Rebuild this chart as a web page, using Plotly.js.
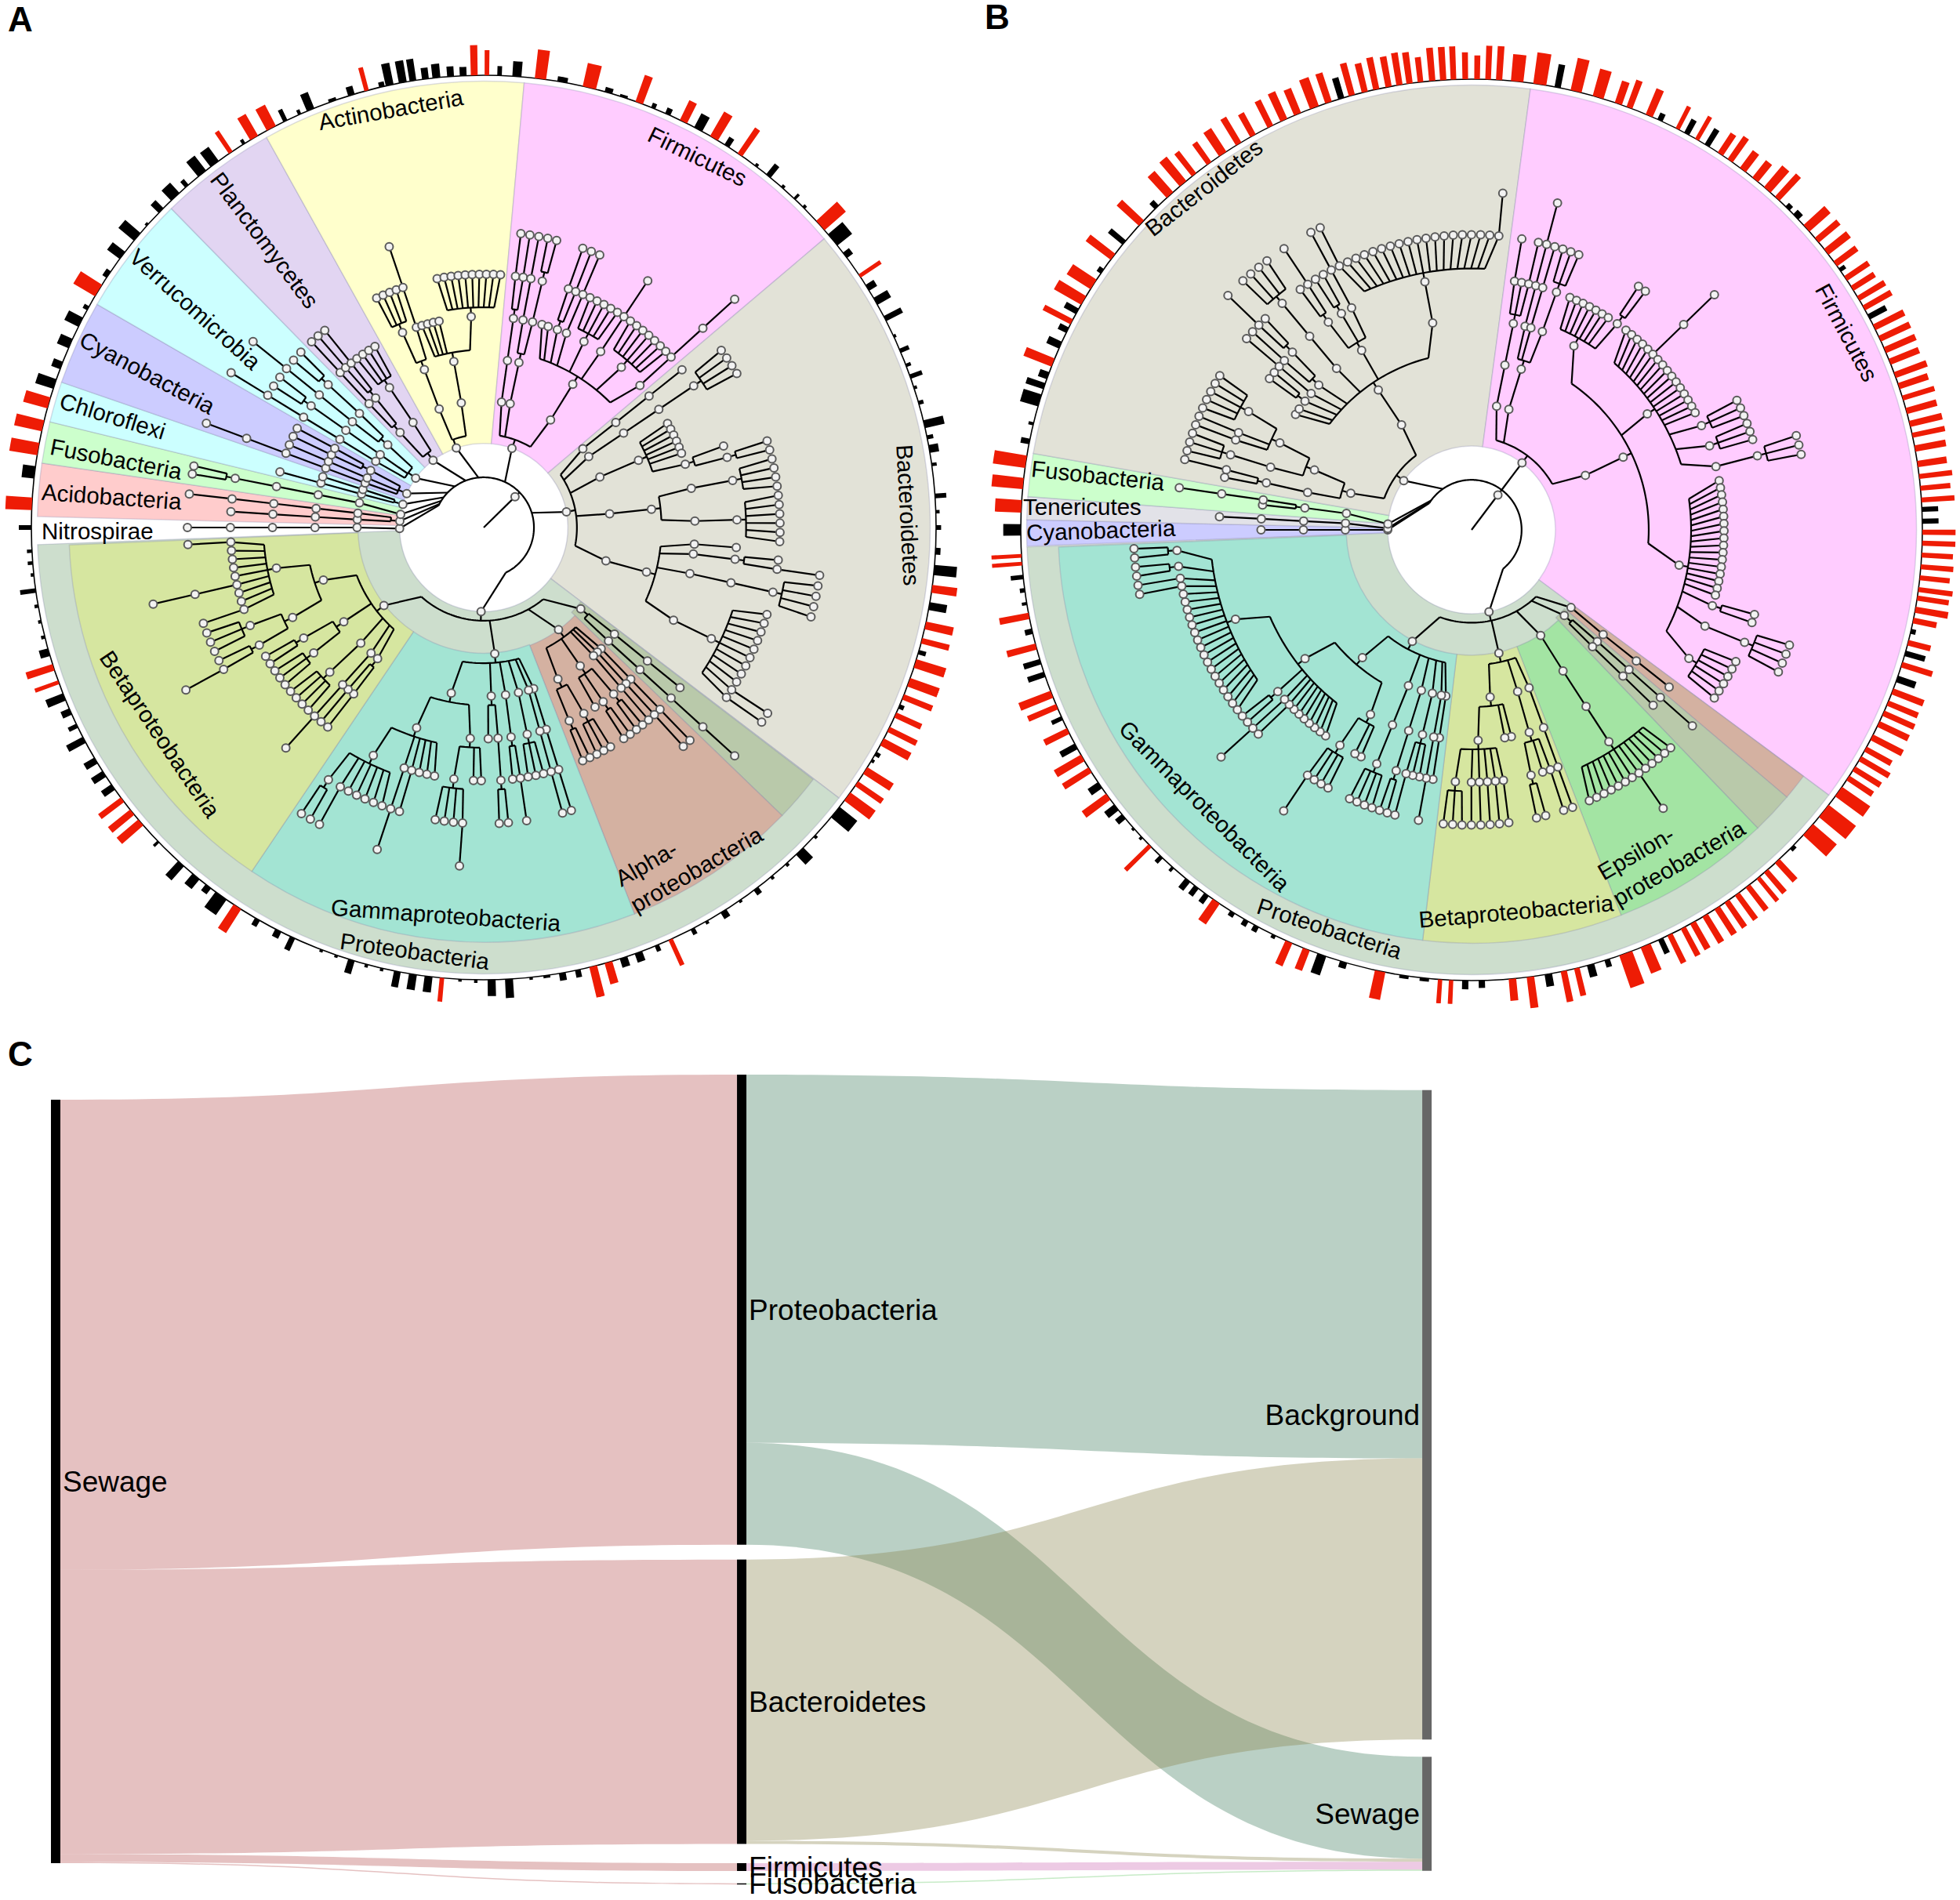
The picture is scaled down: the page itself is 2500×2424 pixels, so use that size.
<!DOCTYPE html>
<html><head><meta charset="utf-8">
<script src="https://cdn.plot.ly/plotly-3.0.1.min.js"></script>
<style>html,body{margin:0;padding:0;background:#fff}#g{width:2500px;height:2424px}</style>
</head><body><div id="g"></div>
<script>
// ---------- panel A: outer bars (angle in degrees clockwise from top, length, width, red flag)
const aBarTheta=[0.4,2,4.2,7.2,10,13.5,16,18,20.1,22,24,26.2,28.3,30.6,32.5,34.5,37,39,41.3,43.4,45,48.1,50.5,53,56.2,58,60,62.5,65,67,69,70.5,72,74,76.8,78.5,80,82,86,88,90,93,95.4,97.8,100,102.5,104.5,106,107.5,110,112,113.3,114.5,116.5,118.3,120,121,122.5,124.5,126.5,129,133,135.7,138,140.5,143,145.5,148,150.5,152.5,155.6,157.5,160,162,164,166,168,170,172,174,176.8,179,181,183,185.3,187,189,191,193,195,197,199,201,205,207,210,213,215.5,217.5,219.5,222,226,229.3,231,233,235,237,239,242,244,246,248,250,252,254,256,258,260,262,264,265.5,267,270,273,277,280,283,286,288.5,291,294,297,299,301.6,304,307,310,312,314.5,317,319,321.5,323.5,326,328,329.5,332,334,336,337.5,340.5,343,345,347,348,349.7,351,352.6,354,355.8,357.4,358.8];
const aBarLen=[40,15,24,46,8,38,8,4,45,8,10,35,25,45,15,50,5,22,5,10,5,45,30,12,40,15,25,30,4,15,8,20,5,8,32,10,15,8,18,6,8,8,36,40,28,45,45,12,50,50,50,8,45,55,50,8,5,50,50,50,36,5,22,5,5,10,4,12,5,10,45,10,15,15,35,50,12,12,4,4,30,26,5,4,38,25,25,25,5,5,22,4,4,22,12,12,45,30,12,20,30,10,45,45,45,20,22,20,30,15,15,30,40,45,15,6,5,6,25,5,8,8,20,42,20,45,45,40,30,15,20,25,8,40,8,25,32,4,18,22,12,30,28,40,8,40,38,20,8,28,5,14,38,8,35,35,35,18,22,16,14,48];
const aBarWid=[8,8,16,20,18,24,14,14,14,8,10,14,16,16,10,10,6,10,6,5,6,22,26,12,7,12,14,10,6,8,6,8,6,7,14,7,14,6,8,6,8,12,18,14,14,14,10,8,16,16,10,8,10,10,14,8,6,14,10,18,24,6,18,6,6,10,6,12,6,8,8,8,14,14,14,14,10,12,12,6,14,14,6,6,8,14,14,12,6,6,12,6,6,10,12,10,16,24,12,16,14,5,14,12,10,12,12,12,12,8,12,14,7,12,14,6,6,6,8,6,6,6,8,22,22,22,20,20,18,14,18,18,8,24,14,16,18,6,12,20,8,18,18,8,6,16,18,8,6,14,14,12,8,10,14,14,12,12,14,12,12,12];
const aBarRed=[1,0,0,1,0,1,0,0,1,0,0,1,0,1,0,1,0,0,0,0,0,1,0,0,1,0,0,0,0,0,0,0,0,0,0,0,0,0,0,0,0,0,0,1,0,1,1,0,1,1,1,0,1,1,1,0,0,1,1,1,0,0,0,0,0,0,0,0,0,0,1,0,0,0,1,1,0,0,0,0,0,0,0,0,1,0,0,0,0,0,0,0,0,0,0,0,1,0,0,0,0,0,1,1,1,0,0,0,0,0,0,0,1,1,0,0,0,0,0,0,0,0,0,1,0,1,1,1,0,0,0,0,0,1,0,0,0,0,0,0,0,0,0,1,0,1,1,0,0,0,0,0,1,0,0,0,0,0,0,0,0,1];
// ---------- panel B: outer bars, as [angle, length, width] grouped by colour
const bRed=[[0.7,38,9],[2.1,54,9],[3.5,54,10],[5.8,43,20],[8.7,50,21],[13.4,53,18],[16.3,45,18],[19,37,12],[20.5,46,10],[23.2,45,12],[27.2,40,7],[30,42,7],[33.5,38,10],[35,45,10],[37,35,12],[39,35,12],[41,45,14],[42.7,50,10],[48,45,14],[50,45,10],[51.9,45,12],[53.8,42,10],[56.1,44,9],[57.6,42,9],[59.1,49,9],[60.5,50,9],[63.3,53,10],[64.9,53,10],[66.5,53,10],[68.1,50,10],[69.9,54,10],[71.4,49,10],[73,53,8],[74.7,50,10],[76.4,53,10],[77.9,53,8],[79.6,50,10],[81.6,47,10],[83.2,53,8],[84.7,48,8],[86.2,53,8],[90.3,53,8],[91.7,53,8],[93.2,50,8],[94.7,52,8],[96.1,48,8],[97.6,55,8],[98.7,51,8],[100.2,53,10],[101.6,38,9],[104.5,37,9],[107.4,51,9],[111,53,10],[112.6,52,9],[114,54,9],[115.5,53,10],[117.4,55,10],[119.1,47,9],[120.5,54,9],[122,50,9],[123.4,47,9],[125.5,55,19],[128.6,55,25],[131.7,50,24],[137.3,42,10],[139.2,45,9],[140.5,48,7],[142.2,48,9],[143.9,50,9],[145.5,50,9],[147,50,10],[148.8,50,10],[150.6,48,10],[152,50,9],[153.9,50,9],[157.3,45,17],[160,55,22],[166.5,45,9],[168.2,50,10],[172.5,50,12],[174.8,35,12],[182.6,38,7],[184,38,7],[191.7,45,17],[201.5,35,12],[203.9,40,12],[214.5,40,14],[225.5,55,7],[233.7,48,12],[237.8,50,10],[239.6,50,12],[243.5,42,10],[246.9,50,9],[248.6,55,12],[255,48,10],[259,48,10],[265.7,48,6],[266.7,48,6],[273,42,20],[275.9,50,18],[278.7,52,20],[291.8,48,14],[297.5,50,9],[300.6,50,16],[303,45,18],[307.3,50,12],[312.9,48,12],[318,45,14],[320.2,50,14],[322,45,9],[324.4,40,9],[326.5,45,14],[328.9,48,10],[331,40,10],[333.5,46,10],[335.4,48,12],[337.3,43,12],[339.6,49,15],[341.5,49,11],[344.6,53,10],[346.3,47,10],[347.8,52,10],[349.4,49,10],[350.8,52,10],[352.1,50,10],[353.5,40,9],[355,53,10],[356.4,53,10],[357.7,53,9],[359.2,43,9]];
const bBlack=[[11,37,10],[24.7,12,9],[28.5,25,9],[31.5,30,9],[44.5,8,9],[46,10,12],[54.8,10,7],[61.8,31,9],[87.4,26,8],[88.9,26,8],[103,8,8],[105.9,33,9],[109.3,31,11],[134.7,6,9],[155.2,25,9],[162.5,12,9],[164.7,20,12],[170.2,20,12],[178.7,12,10],[180.8,14,10],[186,5,15],[188.6,5,15],[196.5,10,12],[199.4,32,15],[206,6,7],[208.5,10,9],[210,10,9],[212,8,9],[216,16,9],[217.6,16,9],[219,18,10],[221.5,8,5],[223.5,12,7],[227,5,5],[228.5,4,5],[230.5,14,10],[232,20,12],[235.5,20,12],[241.3,28,10],[245.3,18,7],[251.3,28,9],[253,28,9],[257,12,9],[260.6,8,5],[262.3,8,7],[264,20,7],[270,28,18],[281.3,14,9],[283.6,8,5],[286.7,30,20],[288.6,30,10],[290,15,12],[294.2,22,12],[296.3,15,10],[299,22,10],[305,8,9],[309.6,30,9],[315.7,12,9],[343.2,34,10]];
const bBarTheta=bRed.concat(bBlack).map(b=>b[0]);
const bBarLen=bRed.concat(bBlack).map(b=>b[1]);
const bBarWid=bRed.concat(bBlack).map(b=>b[2]);
const bBarRed=bRed.map(()=>1).concat(bBlack.map(()=>0));

// ---------- phylum wedges
const aSecFrom=[271.4,278.3,283.7,289,300,315.6,330.9,5.2,49.7,127.3,127.4,134,158.7,214];
const aSecTo=[278.3,283.7,289,300,315.6,330.9,365.2,49.7,127.3,267.8,134,158.7,214,267.6];
const aSecIn=[.186,.186,.186,.186,.186,.186,.186,.186,.186,.186,.27,.28,.278,.278];
const aSecOut=[.987,.987,.987,.987,.987,.987,.987,.987,.987,.987,.917,.917,.917,.917];
const aSecFill=['#ffcccc','#ccffcc','#ccffff','#ccccff','#ccffff','#e2d5f2','#ffffcc','#ffccff','#e2e2d7','#cddecd','#b9c9aa','#d4b1a1','#a3e4d3','#d6e6a0'];
const bSecFrom=[267.9,271.3,274.3,279.9,7.6,126.6,126.6,130.3,136.2,158.8,186.8];
const bSecTo=[271.3,274.3,279.9,367.6,126.6,267.8,130.3,136.2,158.8,186.8,267.6];
const bSecIn=[.186,.186,.186,.186,.186,.186,.278,.27,.278,.278,.278];
const bSecOut=[.987,.987,.987,.987,.987,.987,.917,.917,.917,.917,.917];
const bSecFill=['#ccccff','#e2e2e8','#ccffcc','#e2e2d7','#ffccff','#cddecd','#d4b1a1','#b9c9aa','#a3e4a3','#d6e6a0','#a3e4d3'];

// ---------- taxonomy topology: "(" opens a node, "." a leaf, "N" a chain of N nodes, "N(" a chain whose last node branches
const aPhyla=["6","(4 5)","5(..)","(3 2)","(5 3 (2 2))","(5 3(..) (4 2(..)))","( (3 (2 2)) 2(....) )",
 "( 2( (....) 3 ) 2( .... (..........) ) )",
 "( 3(2 2) 2(3 2(..)) 2( .. (2 2) 3 (.....) 3 (.......) 4 ) )",
 "( 4 4(....) 2(...... (. (..))) 2(2(....) 2(......)) 2(2 2(. 2) 3(....) 2(......... 2 2)) )"];
const aPhylaFrom=[270,273.6,280.4,285.3,290.6,301.5,317.2,335,7.2,51.5];
const aPhylaTo=[270,276.5,282,287.5,298,313.8,329,363.8,47.7,125];
const aPhylaNode=[269.3,274.4,279,286,293.8,306,323,341,19.6,79.3];
const aPhylaAttach=[-64,-62,-58,-53,-46,-35,-21,-6,25,73];
const aClasses=["(3 5)","( 4 4 3 ((..) (..) .) ((...) (..)) )",
 "( 4 4 ((...)) ((2 .)) (2(..) .) ( (.. (2 ...)) (.. . 2 3 (..... 2 (..))) ) )",
 "( (2 2) 4 ((....)) ((...) (..)) ( ((2 .) (...)) (2 . . 3 . . . . 2) ) )"];
const aClassFrom=[129.2,135.9,162.8,218];
const aClassTo=[132.3,157,212.5,266.7];
const aClassNode=[130,143.8,175,232];
const aProteoNode=181.8, aProteoAttach=154, aStem=45.5;

const bPhyla=["4","5","3(. 3)",
 "( ( 2(. 2) ( 2(...) (2 2 (.....)) ) ) 2( . . (..) 3 (2 (2 .)) 2((....)) ((. 2) (..) 3) 2(2 ................. 2) ) )",
 "( 3(2 . 2) 2(4 3 2(...)) 2( (...... . (..)) ( ..... 3 .......... (...) (...) 2(...) ) ( ................. (..) 2(....) (......) ) ) )"];
const bPhylaFrom=[270,273,276.8,282,9.8];
const bPhylaTo=[270,273,278.2,365.3,124.7];
const bPhylaNode=[270,271,274,306,37];
const bPhylaAttach=[-58,-56,-54,-35,37];
const bClasses=["4","(4 3)","4(..... 2 .......)",
 "( 4 ((2 . (..))) ( .. (2 2 2 2 2 (...)) ) )",
 "( 3 4 ((. . 2)) 3(..) 3(....) ( (.. (... 2)) ( ....... 2 3 (..) ( ................. 2 2 (..) (..) ) ) ) )"];
const bClassFrom=[128.5,131.6,137.6,160,188.8];
const bClassTo=[128.5,134,156.5,185.5,266.8];
const bClassNode=[128,132.7,146.8,167.5,208];
const bProteoNode=168, bProteoAttach=141, bStem=37;

// ---------- rotated clade labels
const aLabels=["Actinobacteria","Firmicutes","Bacteroidetes","Planctomycetes","Verrucomicrobia","Cyanobacteria","Chloroflexi","Fusobacteria","Acidobacteria","Nitrospirae","Betaproteobacteria","Gammaproteobacteria","Proteobacteria","Alpha-<br>proteobacteria"];
const aLabelX=[499,890,1159,338,249,188,143,148,142,124,204,569,529,878];
const aLabelY=[140,199,657,306,395,475,531,585,633,677,937,1167,1213,1092];
const aLabelRot=[-10,26,87,53,42,28,17,11,4,0,56,4,8,-30];
const bLabels=["Bacteroidetes","Firmicutes","Fusobacteria","Tenericutes","Cyanobacteria","Gammaproteobacteria","Proteobacteria","Betaproteobacteria","Epsilon-<br>proteobacteria"];
const bLabelX=[1535,2356,1400,1380,1404,1537,1696,1934,2131];
const bLabelY=[239,424,607,646,676,1028,1184,1162,1084];
const bLabelRot=[-38,62,6,0,-2,45,18,-5,-30];

// ---------- panel C: sankey
const sankeyNodes=["Sewage","Proteobacteria","Bacteroidetes","Firmicutes","Fusobacteria","Background","Sewage"];
const sankeySource=[0,0,0,0,1,1,2,2,3,4];
const sankeyTarget=[1,2,3,4,5,6,5,6,6,6];
const sankeyValue=[600,363,10,1.5,470,130,359,4,10,1.5];
const sankeyLinkColor=['rgba(181,78,78,.35)','rgba(181,78,78,.35)','rgba(181,78,78,.35)','rgba(181,78,78,.35)',
 'rgba(58,120,88,.35)','rgba(58,120,88,.35)','rgba(135,129,72,.35)','rgba(135,129,72,.35)','rgba(200,90,170,.32)','rgba(70,190,70,.3)'];
const sankeyNodeColor=['#000','#000','#000','#000','#000','#666','#666'];
const sankeyNodeX=[.0034,.5006,.5006,.5006,.5006,.9972,.9972];
const sankeyNodeY=[.5029,.291,.7747,.9787,.9995,.4207,.913];

// ---------- layout helpers
const W=2500,H=2424;
const levels=[.1,.186,.28,.373,.467,.56,.655,.75];
function parse(str){
  const toks=str.match(/\d+\(|\d+|\(|\)|\./g); let p=0;
  function list(){const out=[];
    while(p<toks.length&&toks[p]!==')'){const t=toks[p++];
      if(t==='.')out.push({kids:[]});
      else if(t==='('){const k=list();p++;out.push({kids:k});}
      else{const n=parseInt(t);let k=[];
        if(t.endsWith('(')){k=list();p++;}
        let node={kids:k};for(let i=1;i<n;i++)node={kids:[node]};
        out.push(node);}
    }
    return out;}
  return list()[0];
}
function place(root,depth,from,to){
  const leaves=[];
  (function walk(n,d){n.d=d;if(!n.kids.length)leaves.push(n);n.kids.forEach(k=>walk(k,d+1));})(root,depth);
  leaves.forEach((l,i)=>{l.t=leaves.length>1?from+i*(to-from)/(leaves.length-1):from;});
  (function up(n){if(n.kids.length){n.kids.forEach(up);n.mid=(n.kids[0].t+n.kids[n.kids.length-1].t)/2;n.t=n.mid;}})(root);
  return root;
}
function arc(r,a,b,T,R){const s=Math.max(2,Math.ceil(Math.abs(b-a)/1.5));
  for(let i=0;i<=s;i++){T.push(a+(b-a)*i/s);R.push(r);}T.push(null);R.push(null);}
function seg(r1,t1,r2,t2,T,R){T.push(t1,t2,null);R.push(r1,r2,null);}
function draw(n,L,N){
  N.t.push(n.t);N.r.push(levels[n.d]);
  if(!n.kids.length)return;
  if(n.kids.length===1){seg(levels[n.d],n.t,levels[n.kids[0].d],n.kids[0].t,L.t,L.r);}
  else{
    const rb=levels[n.d]+.02,k=.85;
    const at=n.kids.map(c=>n.mid+k*(c.t-n.mid));
    seg(levels[n.d],n.t,rb,n.t,L.t,L.r);
    arc(rb,Math.min(n.t,...at),Math.max(n.t,...at),L.t,L.r);
    n.kids.forEach((c,i)=>seg(rb,at[i],levels[c.d],c.t,L.t,L.r));
  }
  n.kids.forEach(c=>draw(c,L,N));
}
function buildTree(ph,pf,pt,pn,pa,cl,cf,ct,cn,proteoNode,proteoAttach,stem){
  const L={t:[],r:[]},N={t:[stem],r:[.097]};
  const rr=.111,atts=pa.concat([proteoAttach]);
  seg(0,stem,rr,stem,L.t,L.r);
  arc(rr,Math.min(...atts),Math.max(...atts),L.t,L.r);
  ph.forEach((s,i)=>{const n=place(parse(s),1,pf[i],pt[i]);n.t=pn[i];
    seg(rr,pa[i],levels[1],n.t,L.t,L.r);draw(n,L,N);});
  seg(rr,proteoAttach,levels[1],proteoNode,L.t,L.r);
  N.t.push(proteoNode);N.r.push(levels[1]);
  const cs=cl.map((s,i)=>{const n=place(parse(s),2,cf[i],ct[i]);n.t=cn[i];return n;});
  const rb=levels[1]+.02,at=cs.map(c=>proteoNode+.8*(c.t-proteoNode));
  seg(levels[1],proteoNode,rb,proteoNode,L.t,L.r);
  arc(rb,Math.min(...at),Math.max(...at),L.t,L.r);
  cs.forEach((c,i)=>{seg(rb,at[i],levels[2],c.t,L.t,L.r);draw(c,L,N);});
  return {L,N};
}
function circle(sub,from,to,rin,rout,fill,tree,bt,bl,bw,br,wscale){
  const data=[];
  data.push({type:'barpolar',subplot:sub,hoverinfo:'skip',
    theta:from.map((f,i)=>(f+to[i])/2),width:from.map((f,i)=>to[i]-f),
    base:rin,r:rout.map((o,i)=>o-rin[i]),
    marker:{color:fill,line:{color:'rgba(130,130,170,.28)',width:1.5}}});
  data.push({type:'barpolar',subplot:sub,hoverinfo:'skip',
    theta:bt,width:bw.map(w=>w*wscale),base:1.0,r:bl.map(v=>v/720),
    marker:{color:br.map(f=>f?'#ee1c05':'#000'),line:{width:0}}});
  data.push({type:'scatterpolar',subplot:sub,mode:'lines',hoverinfo:'skip',connectgaps:false,
    theta:tree.L.t,r:tree.L.r,line:{color:'#000',width:2.2,shape:'linear'}});
  data.push({type:'scatterpolar',subplot:sub,mode:'markers',hoverinfo:'skip',
    theta:tree.N.t,r:tree.N.r,marker:{size:10,color:'#f2f2f2',line:{color:'#5a5a5a',width:2}}});
  return data;
}
const treeA=buildTree(aPhyla,aPhylaFrom,aPhylaTo,aPhylaNode,aPhylaAttach,aClasses,aClassFrom,aClassTo,aClassNode,aProteoNode,aProteoAttach,aStem);
const treeB=buildTree(bPhyla,bPhylaFrom,bPhylaTo,bPhylaNode,bPhylaAttach,bClasses,bClassFrom,bClassTo,bClassNode,bProteoNode,bProteoAttach,bStem);

const data=[
 ...circle('polar',aSecFrom,aSecTo,aSecIn,aSecOut,aSecFill,treeA,aBarTheta,aBarLen,aBarWid,aBarRed,.072),
 ...circle('polar2',bSecFrom,bSecTo,bSecIn,bSecOut,bSecFill,treeB,bBarTheta,bBarLen,bBarWid,bBarRed,.0796),
 {type:'sankey',arrangement:'fixed',hoverinfo:'none',
  domain:{x:[65/W,1825/W],y:[1-2404/H,1-1370/H]},
  textfont:{family:'Liberation Sans',size:37,color:'#000',shadow:'none'},
  node:{label:sankeyNodes,color:sankeyNodeColor,x:sankeyNodeX,y:sankeyNodeY,pad:20,thickness:12,line:{width:0},hoverinfo:'none'},
  link:{source:sankeySource,target:sankeyTarget,value:sankeyValue,color:sankeyLinkColor,line:{width:0},hoverinfo:'none'}}
];
function polarLayout(cx,cy,R,rmax){return {
  domain:{x:[(cx-R)/W,(cx+R)/W],y:[1-(cy+R)/H,1-(cy-R)/H]},
  bgcolor:'rgba(0,0,0,0)',barmode:'overlay',bargap:0,
  radialaxis:{range:[0,rmax],tickvals:[1],showticklabels:false,ticks:'',showline:false,gridcolor:'#000',gridwidth:1.6,angle:90},
  angularaxis:{direction:'clockwise',rotation:90,showgrid:false,showline:false,ticks:'',showticklabels:false}};}
function labelAnn(t,x,y,rot,size,bold){return {xref:'paper',yref:'paper',x:x/W,y:1-y/H,text:bold?'<b>'+t+'</b>':t,textangle:rot,
  showarrow:false,xanchor:'center',yanchor:'middle',align:'left',font:{family:'Liberation Sans',size:size,color:'#000'}};}
const anns=[
 ...aLabels.map((t,i)=>labelAnn(t,aLabelX[i],aLabelY[i],aLabelRot[i],29.5)),
 ...bLabels.map((t,i)=>labelAnn(t,bLabelX[i],bLabelY[i],bLabelRot[i],29.5)),
 labelAnn('A',26,24,0,44,true),labelAnn('B',1272,21,0,44,true),labelAnn('C',26,1344,0,44,true)];
const layout={width:W,height:H,margin:{l:0,r:0,t:0,b:0},paper_bgcolor:'#fff',showlegend:false,
  polar:polarLayout(617,673,617,617/577),polar2:polarLayout(1877,676,620,620/575),annotations:anns};
Plotly.newPlot('g',data,layout,{displayModeBar:false,staticPlot:true});
</script></body></html>
